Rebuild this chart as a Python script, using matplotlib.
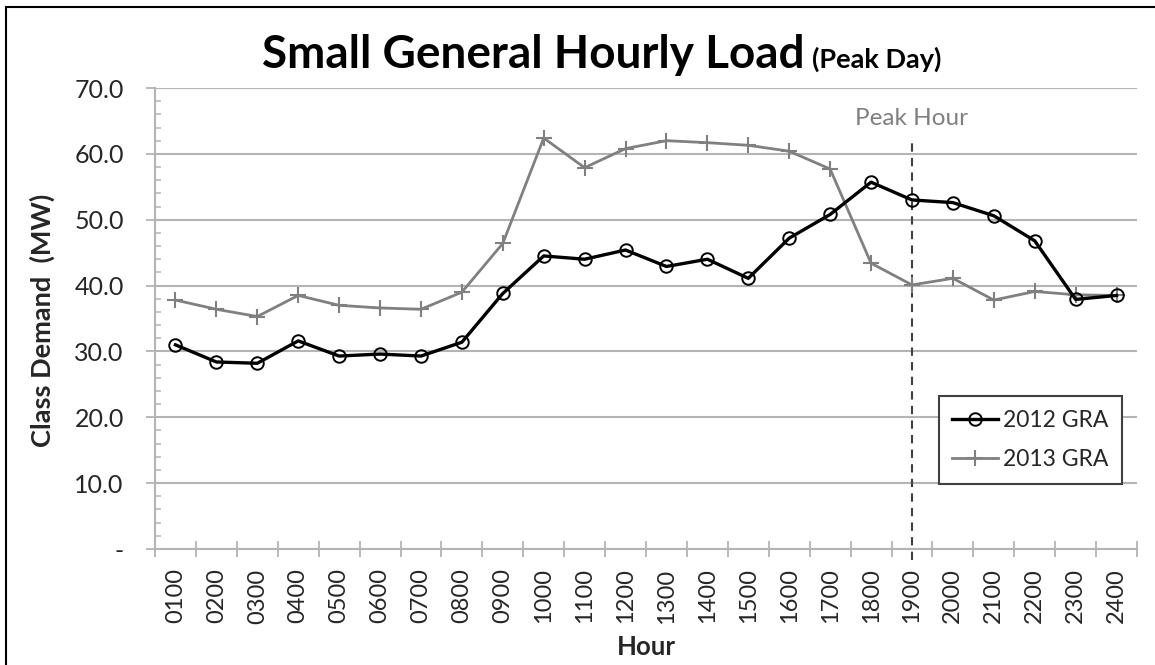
import numpy as np
import matplotlib
matplotlib.use("Agg")
import matplotlib.pyplot as plt
from matplotlib.patches import Rectangle

plt.rcParams['font.family'] = ['Lato', 'DejaVu Sans']

hours = ['0100', '0200', '0300', '0400', '0500', '0600', '0700', '0800',
         '0900', '1000', '1100', '1200', '1300', '1400', '1500', '1600',
         '1700', '1800', '1900', '2000', '2100', '2200', '2300', '2400']
gra_2012 = [31.0, 28.4, 28.2, 31.6, 29.3, 29.6, 29.3, 31.4, 38.8, 44.5, 44.0, 45.4,
            42.9, 44.0, 41.1, 47.2, 50.8, 55.7, 53.0, 52.6, 50.6, 46.8, 37.9, 38.5]
gra_2013 = [37.8, 36.4, 35.3, 38.5, 37.0, 36.6, 36.4, 39.0, 46.4, 62.4, 57.9, 60.8,
            62.0, 61.7, 61.3, 60.4, 57.7, 43.4, 40.1, 41.1, 37.8, 39.1, 38.6, 38.5]
peak_hour = '1900'
y_ticks = [0, 10, 20, 30, 40, 50, 60, 70]
y_labels = ['-', '10.0', '20.0', '30.0', '40.0', '50.0', '60.0', '70.0']

grid_col = '#b4b4b4'
text_col = '#262626'

fig = plt.figure(figsize=(11.55, 6.65), dpi=100)
ax = fig.add_axes([155/1155, 1 - 549/665, 982/1155, 461/665])

x = np.arange(len(hours))
ax.plot(x, gra_2013, color='#808080', lw=2, marker='+', ms=11, mew=1.5,
        label='2013 GRA', zorder=3)
ax.plot(x, gra_2012, color='black', lw=2.4, marker='o', ms=9, mfc='none',
        mew=1.4, label='2012 GRA', zorder=4)

# peak hour marker
px = hours.index(peak_hour)
ax.plot([px, px], [-1.7, 62.5], color='#404040', lw=1.5, ls=(0, (4, 3)),
        clip_on=False, zorder=2)
ax.text(px, 65.4, 'Peak Hour', color='#808080', fontsize=17.5,
        ha='center', va='center')

ax.set_xlim(-0.5, len(hours) - 0.5)
ax.set_ylim(0, 70)

ax.set_xticks(x)
ax.set_xticklabels(hours, rotation=90, fontsize=17, color=text_col)
ax.set_xticks(np.arange(len(hours) + 1) - 0.5, minor=True)
ax.tick_params(axis='x', which='major', length=0, pad=14)
ax.tick_params(axis='x', which='minor', direction='inout', length=11,
               width=1.3, color=grid_col)

ax.set_yticks(y_ticks)
ax.set_yticklabels(y_labels, fontsize=18, color=text_col)
ax.set_yticks(np.arange(0, 71, 2), minor=True)
ax.tick_params(axis='y', which='major', direction='out', length=6.5,
               width=1.3, color=grid_col, pad=16)
ax.tick_params(axis='y', which='minor', direction='in', length=4,
               width=1.1, color=grid_col)

ax.grid(axis='y', which='major', color=grid_col, lw=1.5)
ax.set_axisbelow(True)
for s in ['top', 'right']:
    ax.spines[s].set_visible(False)
for s in ['left', 'bottom']:
    ax.spines[s].set_color(grid_col)
    ax.spines[s].set_linewidth(1.5)

handles, labels = ax.get_legend_handles_labels()
leg = ax.legend(handles[::-1], labels[::-1], loc='upper right',
                bbox_to_anchor=(0.9847, 0.332), fontsize=16.5, numpoints=1,
                handlelength=2.0, handletextpad=0.2, borderpad=0.6,
                labelspacing=0.8, fancybox=False, framealpha=1,
                edgecolor='#404040', borderaxespad=0)
leg.get_frame().set_linewidth(1.5)
for t in leg.get_texts():
    t.set_color(text_col)

# titles and axis labels
t1 = fig.text(262/1155, 1 - 68/665, 'Small General Hourly Load', fontsize=33,
              fontweight='bold', color='black', va='baseline', ha='left')
fig.canvas.draw()
bb = t1.get_window_extent()
fig.text((bb.x1 + 8) / 1155, 1 - 68/665, '(Peak Day)', fontsize=19.5,
         fontweight='bold', color='black', va='baseline', ha='left')
fig.text(42/1155, 1 - 320/665, 'Class Demand  (MW)', rotation=90,
         fontsize=19.5, fontweight='bold', color=text_col, ha='center', va='center')
fig.text(646/1155, 1 - 647/665, 'Hour', fontsize=18.5, fontweight='bold',
         color=text_col, ha='center', va='center')

# outer frame
fig.add_artist(Rectangle((6/1155, -0.1), 1.2, 1.1 - 7/665, fill=False,
                         edgecolor='black', lw=1.5, transform=fig.transFigure))

fig.savefig('out.png', dpi=100)
